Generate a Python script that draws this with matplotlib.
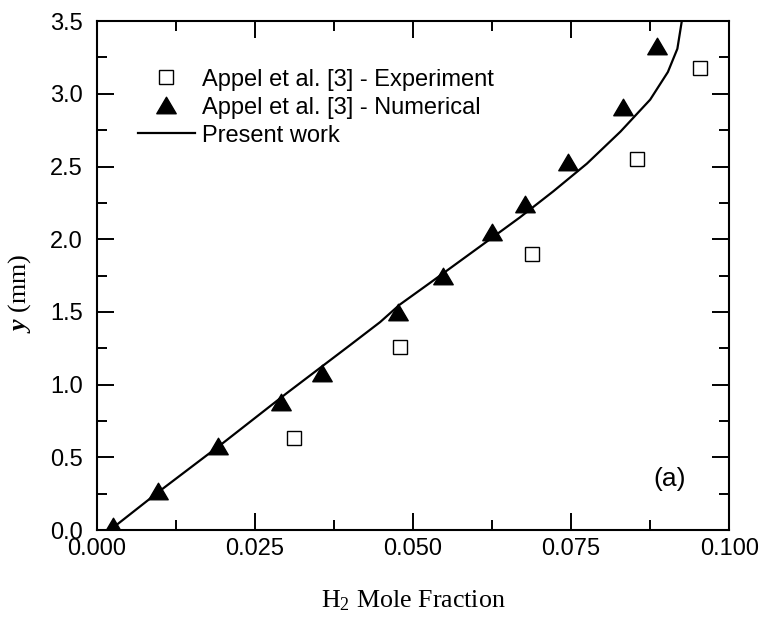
import numpy as np
import matplotlib
matplotlib.use("Agg")
import matplotlib.pyplot as plt
from matplotlib.path import Path

# data
exp_x = [0.0312, 0.0479, 0.0688, 0.0854, 0.0954]
exp_y = [0.63, 1.26, 1.90, 2.55, 3.18]

num_x = [0.0025, 0.0097, 0.0192, 0.0291, 0.0356, 0.0476, 0.0547, 0.0625,
         0.0677, 0.0745, 0.0832, 0.0886]
num_y = [0.03, 0.27, 0.58, 0.88, 1.08, 1.50, 1.75, 2.05, 2.24, 2.53, 2.91, 3.33]

work_x = [0.0021, 0.0100, 0.0200, 0.0300, 0.0400, 0.0448, 0.0479, 0.0527,
          0.0606, 0.0669, 0.0722, 0.0775, 0.0828, 0.0875, 0.0903, 0.0918, 0.0925]
work_y = [0.00, 0.27, 0.60, 0.94, 1.27, 1.43, 1.55, 1.70,
          1.95, 2.15, 2.33, 2.52, 2.74, 2.96, 3.15, 3.31, 3.50]

plt.rcParams['font.family'] = ['Liberation Sans', 'DejaVu Sans']
plt.rcParams['mathtext.fontset'] = 'custom'
plt.rcParams['mathtext.rm'] = 'Liberation Serif'
plt.rcParams['mathtext.it'] = 'Liberation Serif:italic'
plt.rcParams['mathtext.bf'] = 'Liberation Serif:bold:italic'

fs = 17
tri = Path([(0, 0.85), (-1, -0.85), (1, -0.85), (0, 0.85)],
           [Path.MOVETO, Path.LINETO, Path.LINETO, Path.CLOSEPOLY])

fig = plt.figure(figsize=(7.62, 6.21), dpi=100)
ax = fig.add_axes([0.127, 0.1465, 0.83, 0.8195])

ax.plot(exp_x, exp_y, linestyle='none', marker='s', ms=10.5, mfc='white',
        mec='black', mew=1.0, label='Appel et al. [3] - Experiment')
ax.plot(num_x, num_y, linestyle='none', marker=tri, ms=14, color='black',
        label='Appel et al. [3] - Numerical')
ax.plot(work_x, work_y, color='black', lw=1.6, label='Present work')

ax.set_xlim(0, 0.1)
ax.set_ylim(0, 3.5)
ax.set_xticks([0, 0.025, 0.05, 0.075, 0.1])
ax.set_xticklabels(['0.000', '0.025', '0.050', '0.075', '0.100'])
ax.set_xticks(np.arange(0.0125, 0.1, 0.025), minor=True)
ax.set_yticks(np.arange(0, 3.51, 0.5))
ax.set_yticklabels(['%.1f' % v for v in np.arange(0, 3.51, 0.5)])
ax.set_yticks(np.arange(0.25, 3.5, 0.5), minor=True)

ax.tick_params(which='both', direction='in', top=True, right=True,
               width=1.4, labelsize=fs)
ax.tick_params(axis='x', pad=6)
ax.tick_params(axis='y', pad=10)
ax.tick_params(which='major', length=12)
ax.tick_params(which='minor', length=7)
for s in ax.spines.values():
    s.set_linewidth(1.5)

ax.set_xlabel('H$_2$ Mole Fraction', family='Liberation Serif', fontsize=18.7)
ax.set_ylabel(r'$\mathbf{y}$ (mm)', family='Liberation Serif', fontsize=18.7)
ax.xaxis.set_label_coords(0.5, -0.114)
ax.yaxis.set_label_coords(-0.101, 0.466)

ax.text(0.906, 0.1, '(a)', transform=ax.transAxes, fontsize=19,
        ha='center', va='center')

ax.legend(loc='upper left', bbox_to_anchor=(0.05, 0.925), frameon=False,
          fontsize=fs, handlelength=2.4, handletextpad=0.3, labelspacing=0.25,
          borderaxespad=0)

fig.savefig('out.png', dpi=100)
